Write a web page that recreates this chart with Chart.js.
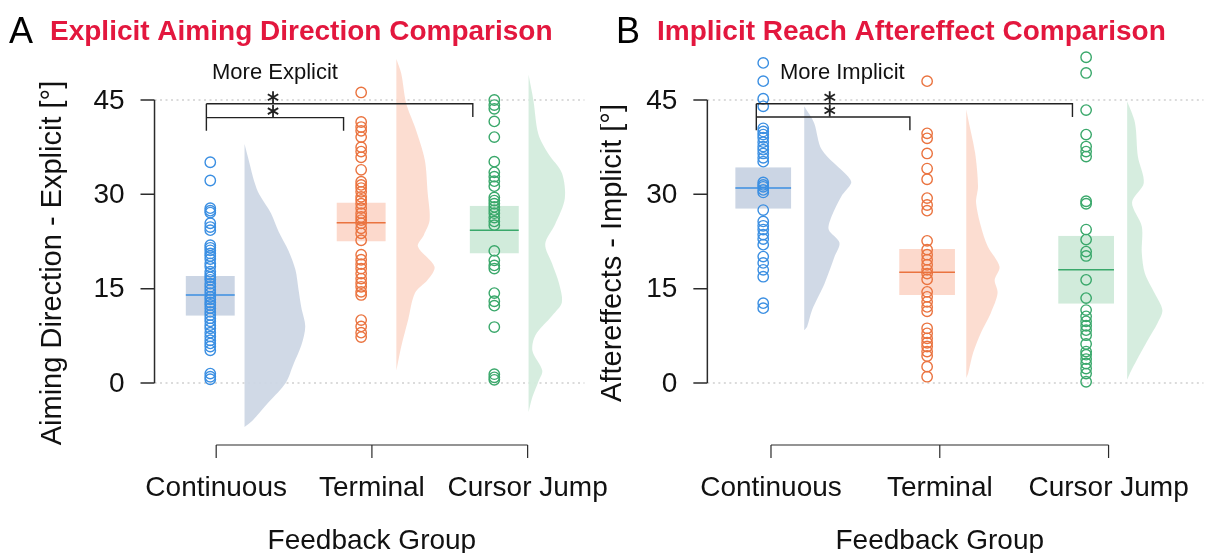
<!DOCTYPE html>
<html>
<head>
<meta charset="utf-8">
<script src="https://cdn.jsdelivr.net/npm/chart.js@4.4.0/dist/chart.umd.min.js"></script>
<style>
html, body { margin: 0; padding: 0; background: #fff; overflow: hidden; }
#wrap { position: relative; width: 1214px; height: 553px; }
canvas { position: absolute; top: 0; }
</style>
</head>
<body>
<div id="wrap">
  <canvas id="chartA" width="640" height="553" style="left:0"></canvas>
  <canvas id="chartB" width="614" height="553" style="left:600px"></canvas>
</div>
<script>
const groups = ['Continuous', 'Terminal', 'Cursor Jump'];
const yTicks = [0, 15, 30, 45];

// A: explicit aiming direction per participant (deg)
const explicitContinuous = [35.1, 32.2, 27.8, 27.4, 27.1, 25.4, 24.8, 24.3, 21.9, 21.5, 21.1, 20.6, 20.2, 19.7, 19.0,
  18.5, 17.7, 17.2, 16.8, 16.4, 15.8, 15.3, 14.8, 14.3, 13.7, 13.3, 12.8, 12.4, 11.9, 11.3, 10.8, 10.3, 9.8, 9.2,
  8.7, 8.0, 7.4, 6.8, 6.3, 5.8, 5.2, 1.5, 1.0, 0.6];
const explicitTerminal = [46.2, 41.5, 40.7, 40.1, 39.1, 37.5, 36.8, 35.9, 33.9, 32.0, 31.5, 31.0, 30.4, 29.6, 29.1,
  28.5, 27.8, 27.0, 26.4, 25.9, 25.4, 24.6, 23.8, 22.7, 20.4, 19.6, 18.9, 18.2, 17.4, 16.6, 15.9, 15.3, 14.5, 14.0,
  10.0, 9.0, 8.0, 7.3];
const explicitCursorJump = [45.0, 44.2, 43.6, 41.6, 39.1, 35.2, 33.5, 32.8, 32.1, 31.3, 29.5, 29.0, 28.5, 28.0, 27.5,
  27.0, 26.3, 25.7, 25.1, 21.0, 19.5, 18.7, 18.2, 14.3, 13.0, 12.3, 8.9, 1.4, 0.9, 0.5];
const explicitMean = [14.0, 25.5, 24.3];
const explicitCiLow = [10.7, 22.5, 20.6];
const explicitCiHigh = [17.0, 28.7, 28.2];
// density curves [value, density]
const explicitDensContinuous = [[38, 0], [35, 0.005], [32, 0.010], [30, 0.015], [27, 0.027], [24, 0.035], [21, 0.045],
  [18, 0.052], [15, 0.055], [12, 0.058], [9, 0.062], [6, 0.058], [3, 0.050], [0, 0.042], [-3, 0.025], [-6, 0.008], [-7, 0]];
const explicitDensTerminal = [[51.5, 0], [49.2, 0.005], [44.5, 0.010], [40.7, 0.019], [35.5, 0.029], [30.2, 0.032],
  [25.9, 0.034], [23.5, 0.028], [21.7, 0.022], [18.5, 0.039], [16.4, 0.032], [14.3, 0.019], [10, 0.012], [5.8, 0.005], [2, 0]];
const explicitDensCursorJump = [[49, 0], [44.9, 0.005], [39.6, 0.010], [36.5, 0.020], [33.4, 0.034], [29.3, 0.037],
  [25.2, 0.027], [22.1, 0.017], [19.0, 0.024], [15.9, 0.031], [12.8, 0.034], [10.7, 0.024], [7.6, 0.007], [5.1, 0.004],
  [2.0, 0.014], [0.2, 0.010], [-2.2, 0.004], [-4.6, 0]];

// B: implicit reach aftereffects per participant (deg)
const implicitContinuous = [50.9, 48.0, 45.2, 44.0, 40.5, 40.0, 39.5, 39.0, 38.3, 37.6, 37.1, 36.5, 35.8, 35.2, 31.9,
  31.5, 31.2, 30.7, 30.3, 27.5, 25.7, 25.0, 24.4, 23.6, 22.9, 22.0, 20.1, 19.1, 18.0, 16.9, 12.7, 11.9];
const implicitTerminal = [48.0, 39.7, 38.9, 36.5, 34.1, 32.4, 29.4, 28.3, 27.4, 22.6, 21.2, 20.4, 19.6, 18.8, 18.0,
  17.4, 16.5, 14.5, 13.7, 12.9, 12.1, 11.4, 8.7, 7.9, 7.1, 6.4, 5.8, 5.0, 4.3, 2.6, 1.0];
const implicitCursorJump = [51.8, 49.3, 43.4, 39.5, 37.6, 36.8, 36.0, 28.9, 28.5, 24.4, 22.8, 20.9, 20.2, 16.4, 13.5,
  11.6, 10.6, 9.8, 9.1, 8.4, 7.6, 6.2, 5.0, 4.5, 3.8, 3.1, 2.3, 1.5, 0.2];
const implicitMean = [31.0, 17.6, 18.0];
const implicitCiLow = [27.7, 14.0, 12.6];
const implicitCiHigh = [34.3, 21.3, 23.4];
const implicitDensContinuous = [[44, 0], [41.4, 0.010], [37.1, 0.018], [32.8, 0.045], [31.8, 0.048], [29.7, 0.038],
  [26.5, 0.028], [24.4, 0.025], [22.3, 0.036], [20.1, 0.031], [15.9, 0.021], [11.6, 0.008], [9.0, 0.003], [8.4, 0]];
const implicitDensTerminal = [[43.5, 0], [41.9, 0.002], [36.6, 0.009], [31.3, 0.012], [28.7, 0.010], [24.9, 0.015],
  [21.7, 0.022], [18.5, 0.034], [16.4, 0.029], [14.3, 0.032], [11.1, 0.025], [8.0, 0.015], [4.8, 0.007], [1.6, 0.002], [0.8, 0]];
const implicitDensCursorJump = [[44.8, 0], [41.4, 0.008], [36.0, 0.011], [31.8, 0.017], [28.7, 0.005], [24.9, 0.015],
  [20.7, 0.015], [17.5, 0.018], [14.3, 0.028], [11.6, 0.036], [9.5, 0.031], [6.8, 0.021], [3.7, 0.010], [1.6, 0.003], [0.5, 0]];

const FONT = '"Liberation Sans", Arial, Helvetica, sans-serif';
const dotColors = ['#3b8fe2', '#ea733f', '#3aa86b'];
const boxFills = ['rgba(185,199,219,0.75)', 'rgba(250,196,176,0.65)', 'rgba(190,226,204,0.7)'];
const violinFills = ['rgba(205,215,229,0.95)', 'rgba(252,217,204,0.9)', 'rgba(212,236,221,0.95)'];

// vertical mapping shared by both panels: 45 -> 100px, 0 -> 383px
const Y_MIN = -10, Y_MAX = 56;
const pxPerDeg = (383 - 100) / 45;

function makeDatasets(points, mean, lo, hi, dens, lay) {
  const ds = [];
  groups.forEach((g, i) => {
    const cx = lay.dotX[i], hw = lay.boxHalf, vx = lay.violinX[i];
    ds.push({
      label: g + ' density',
      data: dens[i].map(([v, d]) => ({ x: vx + d * lay.densScale, y: v })),
      fill: { value: vx }, backgroundColor: violinFills[i], borderWidth: 0,
      pointRadius: 0, tension: 0.3, order: 4
    });
    ds.push({
      label: g + ' CI',
      data: [{ x: cx + hw, y: lo[i] }, { x: cx + hw, y: hi[i] }],
      fill: { value: cx - hw }, backgroundColor: boxFills[i], borderWidth: 0,
      pointRadius: 0, order: 3
    });
    ds.push({
      label: g + ' mean',
      data: [{ x: cx - hw, y: mean[i] }, { x: cx + hw, y: mean[i] }],
      borderColor: dotColors[i], borderWidth: 1.5, pointRadius: 0, fill: false, order: 2
    });
    ds.push({
      label: g,
      data: points[i].map(v => ({ x: cx, y: v })),
      showLine: false, fill: false, pointRadius: 5.2, pointBorderWidth: 1.4,
      pointBorderColor: dotColors[i], pointBackgroundColor: 'rgba(255,255,255,0)', order: 1
    });
  });
  return ds;
}

function star(ctx, cx, cy, r) {
  ctx.beginPath();
  for (let k = 0; k < 3; k++) {
    const a = Math.PI / 2 + k * Math.PI / 3;
    ctx.moveTo(cx - r * Math.cos(a), cy - r * Math.sin(a));
    ctx.lineTo(cx + r * Math.cos(a), cy + r * Math.sin(a));
  }
  ctx.stroke();
}

const decor = {
  id: 'decor',
  beforeDatasetsDraw(chart, args, o) {
    const { ctx, scales: { x, y } } = chart;
    ctx.save();
    ctx.strokeStyle = '#b8b8b8';
    ctx.lineWidth = 1.2;
    ctx.setLineDash([2, 3.5]);
    [yTicks[0], yTicks[yTicks.length - 1]].forEach(v => {
      const py = y.getPixelForValue(v);
      ctx.beginPath();
      ctx.moveTo(x.getPixelForValue(o.axisX), py);
      ctx.lineTo(x.getPixelForValue(o.gridEnd), py);
      ctx.stroke();
    });
    ctx.restore();
  },
  afterDatasetsDraw(chart, args, o) {
    const { ctx, scales: { x, y } } = chart;
    ctx.save();
    ctx.strokeStyle = '#2b2b2b';
    ctx.fillStyle = '#111';
    ctx.lineWidth = 1.5;

    // y axis (R style, spans tick range only)
    const ax = x.getPixelForValue(o.axisX);
    ctx.beginPath();
    ctx.moveTo(ax, y.getPixelForValue(yTicks[0]));
    ctx.lineTo(ax, y.getPixelForValue(yTicks[yTicks.length - 1]));
    yTicks.forEach(t => {
      ctx.moveTo(ax - 14, y.getPixelForValue(t));
      ctx.lineTo(ax, y.getPixelForValue(t));
    });
    ctx.stroke();
    ctx.font = '28px ' + FONT;
    ctx.textAlign = 'right';
    ctx.textBaseline = 'middle';
    yTicks.forEach(t => ctx.fillText(String(t), ax - 30, y.getPixelForValue(t) + 1));

    // x axis bracket
    const bx = y.getPixelForValue(0) + 62;
    ctx.lineWidth = 1.2;
    ctx.beginPath();
    ctx.moveTo(x.getPixelForValue(1), bx);
    ctx.lineTo(x.getPixelForValue(groups.length), bx);
    groups.forEach((g, i) => {
      ctx.moveTo(x.getPixelForValue(i + 1), bx);
      ctx.lineTo(x.getPixelForValue(i + 1), bx + 13);
    });
    ctx.stroke();
    ctx.textAlign = 'center';
    groups.forEach((g, i) => ctx.fillText(g, x.getPixelForValue(i + 1), bx + 43));
    ctx.fillText('Feedback Group', (x.getPixelForValue(1) + x.getPixelForValue(groups.length)) / 2, bx + 96);

    // y axis title
    ctx.save();
    ctx.font = '29px ' + FONT;
    ctx.translate(o.yTitleX, o.yTitleY);
    ctx.rotate(-Math.PI / 2);
    ctx.fillText(o.yTitle, 0, 0);
    ctx.restore();

    // significance brackets
    const sx = x.getPixelForValue(o.sig.left);
    ctx.strokeStyle = '#222';
    ctx.lineWidth = 1.4;
    ctx.beginPath();
    o.sig.ends.forEach((e, k) => {
      const ly = y.getPixelForValue(o.sig.levels[k]);
      const ex = x.getPixelForValue(e);
      ctx.moveTo(sx, ly);
      ctx.lineTo(ex, ly);
      ctx.lineTo(ex, y.getPixelForValue(o.sig.levels[k] - o.sig.drop));
    });
    ctx.moveTo(sx, y.getPixelForValue(o.sig.levels[0]));
    ctx.lineTo(sx, y.getPixelForValue(o.sig.levels[o.sig.levels.length - 1] - o.sig.drop));
    ctx.stroke();
    ctx.lineWidth = 1.8;
    o.sig.levels.forEach(l => star(ctx, x.getPixelForValue(o.sig.starX), y.getPixelForValue(l) - 6.5, 6));

    // note above the brackets
    ctx.font = '22px ' + FONT;
    ctx.textAlign = 'left';
    ctx.fillText(o.note, o.noteX, 73);

    // panel letter and title
    ctx.textBaseline = 'alphabetic';
    ctx.font = '36px ' + FONT;
    ctx.fillStyle = '#000';
    ctx.fillText(o.letter, o.letterX, 43);
    ctx.font = 'bold 28px ' + FONT;
    ctx.fillStyle = '#e3173e';
    ctx.fillText(o.title, o.titleX, 40);
    ctx.restore();
  }
};

function buildPanel(canvasId, lay, data, text) {
  const top = 100 - (Y_MAX - 45) * pxPerDeg;
  const bottom = 553 - (383 + (0 - Y_MIN) * pxPerDeg);
  return new Chart(document.getElementById(canvasId), {
    type: 'line',
    data: { datasets: makeDatasets(data.points, data.mean, data.lo, data.hi, data.dens, lay) },
    options: {
      responsive: false,
      animation: false,
      indexAxis: 'y',
      layout: { padding: { left: 0, right: 0, top: top, bottom: bottom } },
      scales: {
        x: { type: 'linear', min: lay.xMin, max: lay.xMax, display: false },
        y: { type: 'linear', min: Y_MIN, max: Y_MAX, display: false }
      },
      plugins: {
        legend: { display: false },
        tooltip: { enabled: false },
        decor: Object.assign({ axisX: lay.axisX, gridEnd: lay.gridEnd, sig: lay.sig }, text)
      }
    },
    plugins: [decor]
  });
}

// panel A: category spacing 159px, Continuous tick at 214px, canvas 640 wide
const layoutA = {
  xMin: 1 - 214 / 159, xMax: 3 + 108 / 159,
  dotX: [0.962, 1.931, 2.786], violinX: [1.182, 2.157, 3.006], boxHalf: 0.157,
  densScale: 1000 / 159, axisX: 0.604, gridEnd: 3.365,
  sig: { left: 0.937, ends: [2.648, 1.818], levels: [44.4, 42.2], drop: 2.1, starX: 1.365 }
};
// panel B: category spacing 172.5px, Continuous tick at 168px (local)
const layoutB = {
  xMin: 1 - 168 / 172.5, xMax: 3 + 101 / 172.5,
  dotX: [0.954, 1.925, 2.867], violinX: [1.197, 2.157, 3.110], boxHalf: 0.165,
  densScale: 1000 / 172.5, axisX: 0.623, gridEnd: 3.562,
  sig: { left: 0.913, ends: [2.786, 1.823], levels: [44.4, 42.3], drop: 2.1, starX: 1.348 }
};

buildPanel('chartA', layoutA, {
  points: [explicitContinuous, explicitTerminal, explicitCursorJump],
  mean: explicitMean, lo: explicitCiLow, hi: explicitCiHigh,
  dens: [explicitDensContinuous, explicitDensTerminal, explicitDensCursorJump]
}, {
  letter: 'A', letterX: 9, title: 'Explicit Aiming Direction Comparison', titleX: 50,
  note: 'More Explicit', noteX: 212, yTitle: 'Aiming Direction - Explicit [°]', yTitleX: 53, yTitleY: 263
});

buildPanel('chartB', layoutB, {
  points: [implicitContinuous, implicitTerminal, implicitCursorJump],
  mean: implicitMean, lo: implicitCiLow, hi: implicitCiHigh,
  dens: [implicitDensContinuous, implicitDensTerminal, implicitDensCursorJump]
}, {
  letter: 'B', letterX: 16, title: 'Implicit Reach Aftereffect Comparison', titleX: 57,
  note: 'More Implicit', noteX: 180, yTitle: 'Aftereffects - Implicit [°]', yTitleX: 13, yTitleY: 253
});
</script>
</body>
</html>
